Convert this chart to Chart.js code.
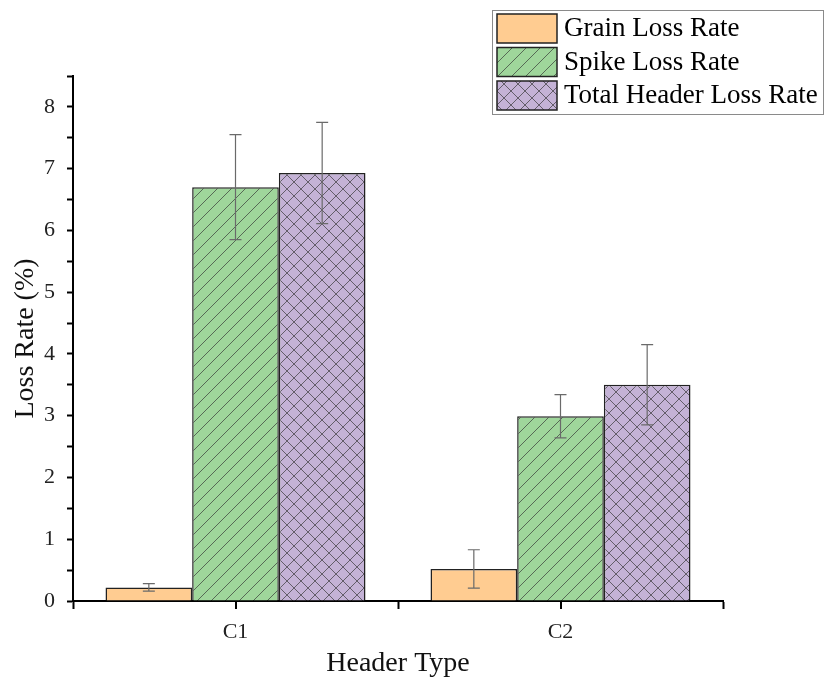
<!DOCTYPE html>
<html>
<head>
<meta charset="utf-8">
<script src="https://cdn.jsdelivr.net/npm/chart.js@4.4.1/dist/chart.umd.min.js"></script>
<style>
  html, body { margin: 0; padding: 0; background: #fff; }
  #wrap { width: 825px; height: 678px; position: relative; }
</style>
</head>
<body>
<div id="wrap"><canvas id="myChart" width="825" height="678"></canvas></div>
<script>
  // data
  var categories = ["C1", "C2"];
  var grainLoss = [0.22, 0.52];
  var grainErr = [0.06, 0.31];
  var spikeLoss = [6.70, 2.99];
  var spikeErr = [0.85, 0.35];
  var totalLoss = [6.93, 3.50];
  var totalErr = [0.82, 0.65];
  var seriesNames = ["Grain Loss Rate", "Spike Loss Rate", "Total Header Loss Rate"];

  var serif = "'Liberation Serif', 'Times New Roman', serif";

  // hatch fills
  function makePattern(bg, kind) {
    var s = 14;
    var c = document.createElement('canvas');
    c.width = s; c.height = s;
    var g = c.getContext('2d');
    g.fillStyle = bg;
    g.fillRect(0, 0, s, s);
    g.strokeStyle = 'rgba(50,50,50,0.75)';
    g.lineWidth = 0.9;
    if (kind !== 'none') {
      g.beginPath();
      g.moveTo(-1, s + 1); g.lineTo(s + 1, -1);
      g.moveTo(-1, 1); g.lineTo(1, -1);
      g.moveTo(s - 1, s + 1); g.lineTo(s + 1, s - 1);
      if (kind === 'cross') {
        g.moveTo(-1, -1); g.lineTo(s + 1, s + 1);
        g.moveTo(s - 1, -1); g.lineTo(s + 1, 1);
        g.moveTo(-1, s - 1); g.lineTo(1, s + 1);
      }
      g.stroke();
    }
    return g.createPattern(c, 'repeat');
  }
  var grainFill = '#FFCC91';
  var spikeFill = makePattern('#9FD69B', 'diag');
  var totalFill = makePattern('#C4B2D6', 'cross');
  var fills = [grainFill, spikeFill, totalFill];
  var errs = [grainErr, spikeErr, totalErr];

  var errorBars = {
    id: 'errorBars',
    afterDatasetsDraw: function(chart) {
      var ctx = chart.ctx;
      var y = chart.scales.y;
      ctx.save();
      ctx.strokeStyle = '#6a6a6a';
      ctx.lineWidth = 1.2;
      chart.data.datasets.forEach(function(ds, di) {
        var meta = chart.getDatasetMeta(di);
        meta.data.forEach(function(bar, i) {
          var v = ds.data[i], e = errs[di][i];
          var top = y.getPixelForValue(v + e);
          var bot = y.getPixelForValue(v - e);
          ctx.beginPath();
          ctx.moveTo(bar.x, top); ctx.lineTo(bar.x, bot);
          ctx.moveTo(bar.x - 6, top); ctx.lineTo(bar.x + 6, top);
          ctx.moveTo(bar.x - 6, bot); ctx.lineTo(bar.x + 6, bot);
          ctx.stroke();
        });
      });
      ctx.restore();
    }
  };

  var extraTicks = {
    id: 'extraTicks',
    afterDraw: function(chart) {
      var ctx = chart.ctx;
      var x = chart.scales.x;
      var base = chart.chartArea.bottom;
      ctx.save();
      ctx.strokeStyle = '#000';
      ctx.lineWidth = 2;
      categories.forEach(function(c, i) {
        var px = Math.round(x.getPixelForValue(i));
        ctx.beginPath();
        ctx.moveTo(px, base); ctx.lineTo(px, base + 8);
        ctx.stroke();
      });
      ctx.restore();
    }
  };

  var boxLegend = {
    id: 'boxLegend',
    afterDraw: function(chart) {
      var ctx = chart.ctx;
      ctx.save();
      ctx.fillStyle = '#fff';
      ctx.fillRect(492, 10, 332, 105);
      ctx.strokeStyle = '#8a8a8a';
      ctx.lineWidth = 1;
      ctx.strokeRect(492.5, 10.5, 331, 104);
      ctx.font = '27px ' + serif;
      ctx.textBaseline = 'middle';
      seriesNames.forEach(function(name, i) {
        var top = 14 + i * 33.5;
        ctx.fillStyle = fills[i];
        ctx.fillRect(497, top, 60, 29);
        ctx.strokeStyle = '#222';
        ctx.lineWidth = 1.5;
        ctx.strokeRect(497, top, 60, 29);
        ctx.fillStyle = '#000';
        ctx.fillText(name, 564, top + 15);
      });
      ctx.restore();
    }
  };

  var ctx = document.getElementById('myChart').getContext('2d');
  this.chart = new Chart(ctx, {
    type: 'bar',
    data: {
      labels: categories,
      datasets: [
        { label: seriesNames[0], data: grainLoss, backgroundColor: grainFill, borderColor: '#222', borderWidth: 1.5 },
        { label: seriesNames[1], data: spikeLoss, backgroundColor: spikeFill, borderColor: '#222', borderWidth: 1.5 },
        { label: seriesNames[2], data: totalLoss, backgroundColor: totalFill, borderColor: '#222', borderWidth: 1.5 }
      ]
    },
    options: {
      responsive: false,
      animation: false,
      datasets: { bar: { categoryPercentage: 0.8, barPercentage: 1.0 } },
      layout: { padding: { top: 76, right: 102, left: 0, bottom: 0 } },
      plugins: { legend: { display: false }, tooltip: { enabled: false } },
      scales: {
        x: {
          offset: true,
          afterFit: function(s) { s.height = 77; },
          grid: { offset: true, drawOnChartArea: false, tickLength: 8, tickWidth: 2, tickColor: '#000' },
          border: { display: true, color: '#000', width: 2 },
          ticks: { color: '#222', padding: 10, font: { family: serif, size: 22 } },
          title: { display: true, text: 'Header Type', color: '#111', padding: { bottom: -2 }, font: { family: serif, size: 28 } }
        },
        y: {
          min: 0,
          max: 8.5,
          afterFit: function(s) { s.width = 73; },
          grid: { drawOnChartArea: false, tickLength: 6, tickWidth: 2, tickColor: '#000' },
          border: { display: true, color: '#000', width: 2 },
          ticks: {
            stepSize: 0.5,
            autoSkip: false,
            color: '#222',
            padding: 12,
            font: { family: serif, size: 22 },
            callback: function(v) { return v % 1 === 0 ? v : ''; }
          },
          title: { display: true, text: 'Loss Rate (%)', color: '#111', padding: { top: 9 }, font: { family: serif, size: 28 } }
        }
      }
    },
    plugins: [errorBars, extraTicks, boxLegend]
  });
</script>
</body>
</html>
